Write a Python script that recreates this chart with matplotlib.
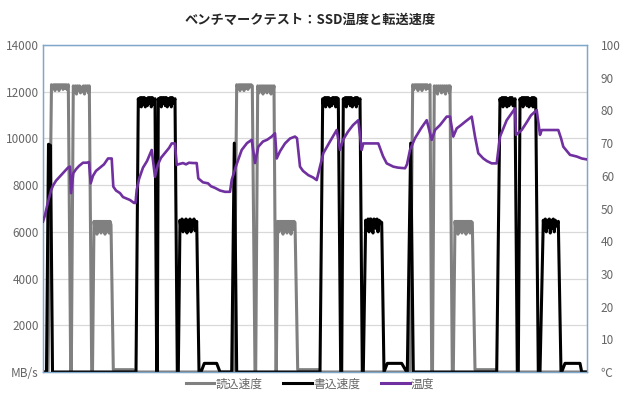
import matplotlib
matplotlib.use("Agg")
import matplotlib.pyplot as plt
from matplotlib.lines import Line2D

plt.rcParams['font.family'] = ['Noto Sans CJK JP', 'DejaVu Sans']

title = "ベンチマークテスト：SSD温度と転送速度"
series_names = ["読込速度", "書込速度", "温度"]
left_ticks = [0, 2000, 4000, 6000, 8000, 10000, 12000, 14000]
left_labels = ["MB/s", "2000", "4000", "6000", "8000", "10000", "12000", "14000"]
right_ticks = [0, 10, 20, 30, 40, 50, 60, 70, 80, 90, 100]
right_labels = ["℃", "10", "20", "30", "40", "50", "60", "70", "80", "90", "100"]

# 読込速度 (MB/s)
read_t = [0, 5, 8.5, 10, 11, 12, 13, 14, 15, 16, 17, 18, 19, 20, 21, 22, 23, 24, 25.3, 27.7,
          28.3, 30.3, 31.5, 32.5, 33.5, 34.5, 35.5, 36.5, 37.5, 38.5, 39.5, 40.5, 41.5, 42.5, 43.5, 44.5, 45.5, 46.3, 48.7,
          49.5, 51, 52, 53, 54, 55, 56, 57, 58, 59, 60, 61, 62, 63, 64, 65, 66, 67, 68, 70.3, 90.3, 92,
          191, 193.7, 195, 196, 197, 198, 199, 200, 201, 202, 203, 204, 205, 206, 207, 208, 209.3, 212,
          212.7, 214.7, 216, 217, 218, 219, 220, 221, 222, 223, 224, 225, 226, 227, 228, 229, 230, 231, 233,
          233.3, 234.7, 236, 237, 238, 239, 240, 241, 242, 243, 244, 245, 246, 247, 248, 249, 250, 251, 252, 254.7, 275.3, 277,
          367, 369.7, 371, 372, 373, 374, 375, 376, 377, 378, 379, 380, 381, 382, 383, 384, 385, 387, 388.7,
          389.5, 391.3, 392.5, 393.5, 394.5, 395.5, 396.5, 397.5, 398.5, 399.5, 400.5, 401.5, 402.5, 403.5, 404.5, 405.5, 406.5, 407, 409.3,
          410.3, 412, 413, 414, 415, 416, 417, 418, 419, 420, 421, 422, 423, 424, 425, 426, 427, 428, 429.3, 432, 452, 454, 544]
read_v = [0, 0, 12300, 12200, 12300, 12050, 12300, 12150, 12300, 12050, 12300, 12200, 12300, 12100, 12300, 12150, 12300, 12100, 12300, 0,
          0, 12250, 12000, 12250, 11900, 12250, 12050, 12250, 11950, 12200, 12000, 12250, 11900, 12250, 12050, 12250, 11950, 12250, 0,
          0, 6450, 6100, 6450, 5900, 6450, 6200, 6450, 5950, 6450, 6100, 6450, 5900, 6450, 6150, 6450, 5950, 6450, 6300, 100, 100, 0,
          0, 12300, 12150, 12300, 12050, 12300, 12200, 12300, 12050, 12300, 12150, 12300, 12100, 12300, 12200, 12300, 12250, 0,
          0, 12250, 11950, 12250, 12050, 12250, 11900, 12250, 12000, 12250, 11950, 12250, 12050, 12250, 11900, 12250, 12000, 12250, 0,
          0, 6450, 6000, 6450, 6150, 6450, 5900, 6450, 6100, 6450, 5950, 6450, 6150, 6450, 5900, 6450, 6100, 6450, 6400, 100, 100, 0,
          0, 12300, 12100, 12300, 12200, 12300, 12050, 12300, 12150, 12300, 12050, 12300, 12200, 12300, 12100, 12300, 12150, 12300, 0,
          0, 12250, 12000, 12250, 11900, 12250, 12050, 12250, 11950, 12250, 12000, 12250, 11900, 12250, 12050, 12250, 11950, 12250, 0,
          0, 6450, 6100, 6450, 5900, 6450, 6150, 6450, 5950, 6450, 6100, 6450, 5900, 6450, 6150, 6450, 5950, 6450, 6400, 100, 100, 0, 0]

# 書込速度 (MB/s)
write_t = [0, 3.5, 5.5, 7.5, 9.5,
           93, 95.3, 96.3, 97.3, 98.3, 99.3, 100.3, 101.3, 102.3, 103.3, 104.3, 105.3, 106.3, 107.3, 108.3, 109.3, 110.3, 112, 113.7,
           114.3, 115.3, 116.3, 117.3, 118.3, 119.3, 120.3, 121.3, 122.3, 123.3, 124.3, 125.3, 126.3, 127.3, 128.3, 129.3, 130.3, 132, 134.3,
           135.3, 137, 138, 139, 140, 141, 142, 143, 144, 145, 146, 147, 148, 149, 150, 151, 152, 153.7, 156,
           158, 161.3, 173.7, 177, 188.7, 191.3, 193.7,
           277, 279.7, 280.7, 281.7, 282.7, 283.7, 284.7, 285.7, 286.7, 287.7, 288.7, 289.7, 290.7, 291.7, 292.7, 293.7, 295.3, 297.7,
           298.7, 300.3, 301.3, 302.3, 303.3, 304.3, 305.3, 306.3, 307.3, 308.3, 309.3, 310.3, 311.3, 312.3, 313.3, 314.3, 315.3, 317, 319.3,
           320.3, 322.7, 324, 325, 326, 327, 328, 329, 330, 331, 332, 333, 334, 335, 336, 337, 338.7, 341,
           344.3, 358.7, 363.7, 364.3, 367.7, 370.3,
           453.7, 457, 458, 459, 460, 461, 462, 463, 464, 465, 466, 467, 468, 469, 470, 472, 474.3,
           475.3, 477, 478, 479, 480, 481, 482, 483, 484, 485, 486, 487, 488, 489, 490, 491, 492.7, 495.3,
           497, 500.3, 501.3, 502.3, 503.3, 504.3, 505.3, 506.3, 507.3, 508.3, 509.3, 510.3, 511.3, 512.3, 513.3, 515.3, 518,
           518.7, 522, 537, 538.7, 544]
write_v = [0, 0, 9750, 9700, 0,
           0, 11700, 11400, 11750, 11350, 11750, 11450, 11750, 11350, 11700, 11400, 11750, 11500, 11750, 11350, 11750, 11450, 11700, 0,
           0, 11700, 11450, 11750, 11350, 11750, 11500, 11750, 11400, 11750, 11350, 11700, 11450, 11750, 11350, 11750, 11500, 11700, 0,
           0, 6500, 6100, 6550, 6000, 6500, 6200, 6550, 5950, 6500, 6150, 6550, 6000, 6500, 6250, 6550, 6050, 6450, 0,
           0, 370, 370, 0, 0, 9800, 0,
           0, 11700, 11400, 11750, 11350, 11750, 11450, 11750, 11350, 11700, 11400, 11750, 11500, 11750, 11350, 11750, 11700, 0,
           0, 11700, 11450, 11750, 11350, 11750, 11500, 11750, 11400, 11750, 11350, 11700, 11450, 11750, 11350, 11750, 11500, 11700, 0,
           0, 6500, 6100, 6550, 6000, 6550, 6550, 6100, 5950, 6550, 6500, 6150, 6550, 6000, 6500, 6450, 6400, 0,
           370, 370, 0, 0, 9800, 0,
           0, 11700, 11400, 11750, 11350, 11750, 11450, 11750, 11350, 11700, 11400, 11750, 11500, 11750, 11400, 11700, 0,
           0, 11700, 11450, 11750, 11350, 11750, 11500, 11750, 11400, 11750, 11350, 11700, 11450, 11750, 11350, 11750, 11700, 0,
           0, 6500, 6100, 6550, 6000, 6500, 6200, 6550, 5950, 6500, 6150, 6550, 6000, 6500, 6250, 6450, 0,
           0, 370, 370, 0, 0]

# 温度 (℃)
temp_t = [0, 2, 5, 8, 10, 13, 16, 19, 22, 25, 27, 28, 30.3, 33, 36, 40, 43.7, 46, 47.7, 50, 53, 57, 61, 65, 68.7, 70.3,
          73, 77, 80, 84, 87, 91, 92.5, 93.7, 96, 100, 104, 108.7, 112, 115, 118, 122, 126, 128.7, 132, 133.7, 135, 140,
          143, 146, 150, 153.7, 155.3, 160, 165, 168, 172, 177, 182, 187, 188.7, 193, 198.7, 204, 208.7, 212, 215.3, 220,
          224, 228.7, 232, 233.7, 237, 242, 247, 252, 254, 257, 260, 265.3, 270, 273.7, 280.3, 287, 293.7, 297, 300, 305,
          310, 315.3, 318.7, 320.3, 335.3, 340, 343.7, 350.3, 355, 362, 364, 367, 372, 378, 383.7, 388.7, 392, 397, 403.7,
          407, 410.3, 413.7, 418, 422, 428.7, 432, 435.3, 440.3, 444, 448.7, 453.7, 457, 463.7, 472, 473, 478.7, 484, 488,
          493.7, 497, 498.7, 515.3, 518, 520.3, 524, 527, 533.7, 538.7, 544]
temp_v = [46, 48, 52, 55.5, 57, 58.5, 59.5, 60.5, 61.5, 62.5, 62.8, 54.7, 60.8, 62, 63, 64, 64, 64.2, 57.7, 60, 61.5, 62.5, 63.5, 65.3, 65.3, 56.7,
          55.5, 54.7, 53.5, 53, 52.6, 51.7, 51.7, 55.7, 59, 62.5, 64.5, 67.9, 59.7, 63.5, 65.5, 67, 68.5, 69.9, 69.9, 63.3, 63.5, 63.9,
          63.5, 64, 63.9, 63.9, 59.2, 58, 57.7, 56.8, 56.3, 55.5, 55.1, 55.1, 58.7, 63, 67.9, 70, 71, 63.9, 68.9, 70.5,
          71, 72, 73, 65.3, 67.5, 69.9, 71.4, 72, 71.5, 62.8, 61.5, 60.2, 59.5, 58.7, 66.9, 70.5, 74, 67.9, 71, 73.5,
          75.5, 77, 67.9, 69.9, 69.9, 66, 63.8, 62.8, 62.5, 62.3, 63.5, 67.9, 71.5, 74.5, 77, 71, 74, 75.5, 78.1,
          78.1, 72, 74.5, 75.5, 76.5, 78.1, 72, 66.9, 65.3, 64.5, 63.8, 63.8, 72, 77, 80.6, 72.5, 74, 76.5, 78.5,
          80.1, 72.5, 74, 74, 71.5, 68.9, 67.5, 66.4, 65.9, 65.3, 65]

fig = plt.figure(figsize=(6.2, 4.0), dpi=100)
ax = fig.add_axes([43/620, 28/400, 544/620, 327/400])
ax2 = ax.twinx()

spine_color = '#7fa7c9'
c_read, c_write, c_temp = '#808080', '#000000', '#7030a0'

ax.set_yticks(left_ticks)
ax.grid(axis='y', color='#d9d9d9', linewidth=0.9)
ax.set_axisbelow(True)
l1, = ax.plot(read_t, read_v, color=c_read, linewidth=2.2, solid_joinstyle='round', zorder=3)
l2, = ax.plot(write_t, write_v, color=c_write, linewidth=2.2, solid_joinstyle='round', zorder=4)
l3, = ax2.plot(temp_t, temp_v, color=c_temp, linewidth=1.9, solid_joinstyle='round', zorder=5)

ax.set_xlim(0, 544)
ax.set_ylim(0, 14000)
ax2.set_ylim(0, 100)
ax.set_xticks([])
ax.set_yticklabels(left_labels)
ax2.set_yticks(right_ticks)
ax2.set_yticklabels(right_labels)

for a in (ax, ax2):
    for s in a.spines.values():
        s.set_color(spine_color)
        s.set_linewidth(0.9)
ax.tick_params(axis='y', length=0, labelsize=8.5, labelcolor='#666666', pad=3)
ax2.tick_params(axis='y', length=0, labelsize=8.5, labelcolor='#666666', pad=10)

fig.text(0.5, 1 - 20/400, title, ha='center', va='center', fontsize=9.5,
         fontweight='bold', color='#262626')

handles = [Line2D([], [], color=c_read, linewidth=2.2),
           Line2D([], [], color=c_write, linewidth=2.2),
           Line2D([], [], color=c_temp, linewidth=2.2)]
leg = fig.legend(handles, series_names, loc='center', bbox_to_anchor=(0.5, 1 - 384/400),
                 ncol=3, frameon=False, fontsize=8.5, handlelength=2.4, handletextpad=0.1,
                 columnspacing=1.8)
for t in leg.get_texts():
    t.set_color('#666666')

fig.savefig('out.png', dpi=100)
